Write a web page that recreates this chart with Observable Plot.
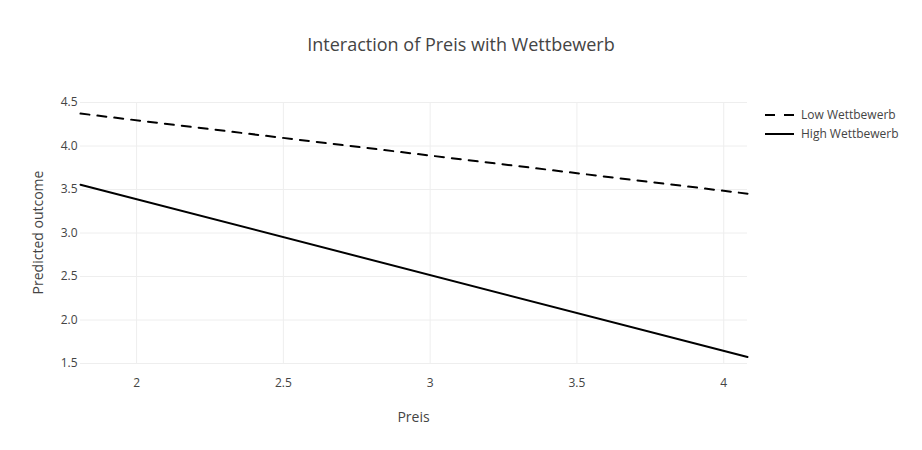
<!DOCTYPE html>
<html><head><meta charset="utf-8">
<script src="https://cdn.jsdelivr.net/npm/d3@7"></script>
<script src="https://cdn.jsdelivr.net/npm/@observablehq/plot@0.6"></script>
<style>
body{margin:0;background:#fff;font-family:"Open Sans",sans-serif;}
#chart{position:relative;width:922px;height:450px;}
</style></head>
<body><div id="chart"></div>
<script>
const preis = [1.809, 4.081];
const lowWettbewerb = [4.373, 3.452];
const highWettbewerb = [3.555, 1.574];
const seriesNames = ["Low Wettbewerb", "High Wettbewerb"];
const yTicks = [1.5, 2.0, 2.5, 3.0, 3.5, 4.0, 4.5];
const xTicks = [2, 2.5, 3, 3.5, 4];

const rows = [];
preis.forEach((p, i) => {
  rows.push({preis: p, value: lowWettbewerb[i], series: seriesNames[0]});
  rows.push({preis: p, value: highWettbewerb[i], series: seriesNames[1]});
});

const W = 922, H = 450, ml = 80, mr = 175, mt = 102, mb = 87;
const DASH = "9,8";
const plot = Plot.plot({
  width: W, height: H,
  marginLeft: ml, marginRight: mr, marginTop: mt, marginBottom: mb,
  style: {fontFamily: '"Open Sans", sans-serif', fontSize: "12px", color: "#444", background: "#fff"},
  x: {domain: [preis[0], preis[1]], ticks: xTicks, tickFormat: d => String(d), label: null},
  y: {domain: [1.5, 4.5], ticks: yTicks, tickFormat: d3.format(".1f"), label: null},
  marks: [
    Plot.gridX(xTicks, {stroke: "#eee", strokeOpacity: 1}),
    Plot.gridY(yTicks, {stroke: "#eee", strokeOpacity: 1}),
    Plot.axisX({ticks: xTicks, tickSize: 0, tickPadding: 15, tickFormat: d => String(d), fill: "#444", fontSize: 12}),
    Plot.axisY({ticks: yTicks, tickSize: 0, tickPadding: 3, tickFormat: d3.format(".1f"), fill: "#444", fontSize: 12}),
    Plot.line(rows.filter(d => d.series === seriesNames[0]), {x: "preis", y: "value", stroke: "black", strokeWidth: 2, strokeDasharray: DASH}),
    Plot.line(rows.filter(d => d.series === seriesNames[1]), {x: "preis", y: "value", stroke: "black", strokeWidth: 2})
  ]
});
document.getElementById("chart").appendChild(plot);

const svg = d3.select(plot);
svg.append("text").attr("x", 461).attr("y", 51).attr("text-anchor", "middle")
  .attr("font-size", 18).attr("fill", "#444").text("Interaction of Preis with Wettbewerb");
svg.append("text").attr("x", (ml + W - mr) / 2).attr("y", 422).attr("text-anchor", "middle")
  .attr("font-size", 14).attr("fill", "#444").text("Preis");
svg.append("text").attr("transform", `translate(43,${(mt + H - mb) / 2}) rotate(-90)`).attr("text-anchor", "middle")
  .attr("font-size", 14).attr("fill", "#444").text("Predicted outcome");

const leg = svg.append("g").attr("transform", "translate(765,115)");
seriesNames.forEach((name, i) => {
  const g = leg.append("g").attr("transform", `translate(0,${i * 19})`);
  g.append("line").attr("x1", 0).attr("x2", 29).attr("y1", 0).attr("y2", 0)
    .attr("stroke", "black").attr("stroke-width", 2)
    .attr("stroke-dasharray", i === 0 ? "10,9" : null);
  g.append("text").attr("x", 36).attr("y", 4).attr("text-anchor", "start")
    .attr("font-size", 12).attr("fill", "#444").text(name);
});
</script></body></html>
